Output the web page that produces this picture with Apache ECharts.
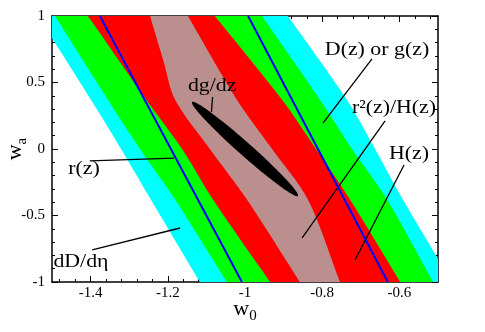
<!DOCTYPE html>
<html>
<head>
<meta charset="utf-8">
<script src="https://cdn.jsdelivr.net/npm/echarts@6/dist/echarts.min.js"></script>
<style>
html, body { margin: 0; padding: 0; background: #fff; }
#chart { width: 485px; height: 332px; }
</style>
</head>
<body>
<div id="chart"></div>
<script>
// tick values
const xMajor = [-1.4, -1.2, -1, -0.8, -0.6];
const xMinor = [-1.48, -1.44, -1.36, -1.32, -1.28, -1.24, -1.16, -1.12, -1.08, -1.04,
  -0.96, -0.92, -0.88, -0.84, -0.76, -0.72, -0.68, -0.64, -0.56, -0.52];
const yMajor = [-1, -0.5, 0, 0.5, 1];
const yMinor = [-0.9, -0.8, -0.7, -0.6, -0.4, -0.3, -0.2, -0.1, 0.1, 0.2, 0.3, 0.4, 0.6, 0.7, 0.8, 0.9];

// band edges, [w0, wa]
const cyanLeft = [[-1.601, 1.3], [-1.536, 1], [-1.399, 0.37], [-1.321, 0], [-1.244, -0.38], [-1.117, -1], [-1.055, -1.3]];
const cyanRight = [[-0.962, 1.3], [-0.889, 1], [-0.736, 0.37], [-0.663, 0], [-0.591, -0.38], [-0.464, -1], [-0.403, -1.3]];
const greenLeft = [[-1.557, 1.3], [-1.492, 1], [-1.355, 0.37], [-1.272, 0], [-1.181, -0.38], [-1.047, -1], [-0.982, -1.3]];
const greenRight = [[-1.027, 1.3], [-0.956, 1], [-0.806, 0.37], [-0.723, 0], [-0.632, -0.38], [-0.513, -1], [-0.455, -1.3]];
const redLeft = [[-1.484, 1.3], [-1.407, 1], [-1.256, 0.37], [-1.163, 0], [-1.083, -0.38], [-0.935, -1], [-0.862, -1.3]];
const redRight = [[-1.161, 1.3], [-1.078, 1], [-0.904, 0.37], [-0.816, 0], [-0.728, -0.38], [-0.598, -1], [-0.535, -1.3]];
const brownLeft = [[-1.277, 1.3], [-1.246, 1], [-1.212, 0.67], [-1.181, 0.37], [-1.091, 0], [-0.995, -0.38], [-0.858, -1], [-0.792, -1.3]];
const brownRight = [[-1.208, 1.3], [-1.148, 1], [-1.021, 0.37], [-0.930, 0], [-0.837, -0.38], [-0.754, -1], [-0.714, -1.3]];

// r(z) lines
const blueLine1 = [[-1.376, 1], [-1.008, -1]];
const blueLine2 = [[-0.992, 1], [-0.630, -1]];

// dg/dz ellipse: centre, end of long axis, end of short axis
const ellipseCenter = [-1.0, 0.0];
const ellipseTip = [-1.137, 0.353];
const ellipseSide = [-0.988, 0.035];

// labels and their pointers
const noteText = ['dg/dz', 'D(z) or g(z)', 'r\u00b2(z)/H(z)', 'H(z)', 'r(z)', 'dD/d\u03b7'];
const notePos = [[-1.085, 0.474], [-0.658, 0.744], [-0.614, 0.308], [-0.575, -0.038], [-1.417, -0.150], [-1.425, -0.850]];
const noteFrom = [[-1.084, 0.391], [-0.671, 0.677], [-0.637, 0.211], [-0.588, -0.120], [-1.402, -0.090], [-1.396, -0.759]];
const noteTo = [[-1.087, 0.278], [-0.798, 0.195], [-0.852, -0.669], [-0.715, -0.835], [-1.184, -0.068], [-1.168, -0.594]];

const serif = '"Liberation Serif", "Times New Roman", serif';
const chart = echarts.init(document.getElementById('chart'));

function clipRect(params) {
  const cs = params.coordSys;
  return { type: 'rect', shape: { x: cs.x, y: cs.y, width: cs.width, height: cs.height } };
}

function band(left, right, color) {
  return {
    type: 'custom',
    silent: true,
    data: [[-1, 0]],
    renderItem: function (params, api) {
      const pts = left.map(p => api.coord(p))
        .concat(right.slice().reverse().map(p => api.coord(p)));
      return {
        type: 'polygon',
        shape: { points: pts, smooth: 0.3 },
        style: { fill: color },
        clipPath: clipRect(params)
      };
    }
  };
}

function blue(pts) {
  return {
    type: 'line',
    data: pts,
    symbol: 'none',
    silent: true,
    lineStyle: { color: '#0000ff', width: 2 },
    clip: true
  };
}

const nameRich = {
  a: { fontFamily: serif, fontSize: 22, lineHeight: 30, verticalAlign: 'middle', color: '#000' },
  b: { fontFamily: serif, fontSize: 15, lineHeight: 30, verticalAlign: 'bottom', color: '#000' }
};

function xAx(gridIndex, position, ticks, len, main) {
  return {
    type: 'value', gridIndex: gridIndex, position: position,
    min: -1.5, max: -0.5,
    axisLine: { show: main, onZero: false, lineStyle: { color: '#000', width: 1.5 } },
    axisTick: { show: true, inside: true, length: len, customValues: ticks, lineStyle: { color: '#000', width: 1 } },
    axisLabel: {
      show: main && position === 'bottom', customValues: xMajor,
      color: '#000', fontFamily: serif, fontSize: 15, margin: 4
    },
    splitLine: { show: false },
    name: (main && position === 'bottom') ? '{a|w}{b|0}' : '',
    nameLocation: 'middle',
    nameMoveOverlap: false,
    nameGap: 12,
    nameTextStyle: { color: '#000', rich: nameRich }
  };
}

function yAx(gridIndex, position, ticks, len, main) {
  return {
    type: 'value', gridIndex: gridIndex, position: position,
    min: -1, max: 1,
    axisLine: { show: main, onZero: false, lineStyle: { color: '#000', width: 1.5 } },
    axisTick: { show: true, inside: true, length: len, customValues: ticks, lineStyle: { color: '#000', width: 1 } },
    axisLabel: {
      show: main && position === 'left', customValues: yMajor,
      color: '#000', fontFamily: serif, fontSize: 15, margin: 7
    },
    splitLine: { show: false },
    name: (main && position === 'left') ? '{a|w}{b|a}' : '',
    nameLocation: 'middle',
    nameRotate: 90,
    nameMoveOverlap: false,
    nameGap: 22,
    nameTextStyle: { color: '#000', rich: nameRich }
  };
}

const gridBox = { left: 52, right: 47, top: 16, bottom: 50, containLabel: false, outerBoundsMode: 'none' };

const option = {
  backgroundColor: '#fff',
  animation: false,
  grid: [Object.assign({}, gridBox), Object.assign({}, gridBox)],
  xAxis: [
    xAx(0, 'bottom', xMajor, 6, true),
    xAx(0, 'top', xMajor, 6, true),
    xAx(1, 'bottom', xMinor, 3, false),
    xAx(1, 'top', xMinor, 3, false)
  ],
  yAxis: [
    yAx(0, 'left', yMajor, 6, true),
    yAx(0, 'right', yMajor, 6, true),
    yAx(1, 'left', yMinor, 3, false),
    yAx(1, 'right', yMinor, 3, false)
  ],
  series: [
    band(cyanLeft, cyanRight, '#00ffff'),
    band(greenLeft, greenRight, '#00ff00'),
    band(redLeft, redRight, '#ff0000'),
    band(brownLeft, brownRight, '#bc8f8f'),
    blue(blueLine1),
    blue(blueLine2),
    {
      type: 'custom',
      silent: true,
      data: [[-1, 0]],
      renderItem: function (params, api) {
        const c = api.coord(ellipseCenter), t = api.coord(ellipseTip), s = api.coord(ellipseSide);
        const ax = t[0] - c[0], ay = t[1] - c[1], bx = s[0] - c[0], by = s[1] - c[1];
        const pts = [];
        for (let i = 0; i < 90; i++) {
          const a = i / 90 * Math.PI * 2;
          pts.push([c[0] + ax * Math.cos(a) + bx * Math.sin(a), c[1] + ay * Math.cos(a) + by * Math.sin(a)]);
        }
        return { type: 'polygon', shape: { points: pts }, style: { fill: '#000' } };
      }
    },
    {
      type: 'custom',
      silent: true,
      data: noteText.map((t, i) => [notePos[i][0], notePos[i][1], i]),
      renderItem: function (params, api) {
        const i = params.dataIndex;
        const p = api.coord(notePos[i]), a = api.coord(noteFrom[i]), b = api.coord(noteTo[i]);
        return {
          type: 'group',
          children: [
            {
              type: 'line',
              shape: { x1: a[0], y1: a[1], x2: b[0], y2: b[1] },
              style: { stroke: '#000', lineWidth: 1.3 }
            },
            {
              type: 'text',
              x: p[0], y: p[1],
              scaleX: 1.15,
              style: {
                text: noteText[i], fill: '#000',
                font: '19px ' + serif,
                align: 'center', verticalAlign: 'middle'
              }
            }
          ]
        };
      }
    }
  ]
};

chart.setOption(option);
</script>
</body>
</html>
